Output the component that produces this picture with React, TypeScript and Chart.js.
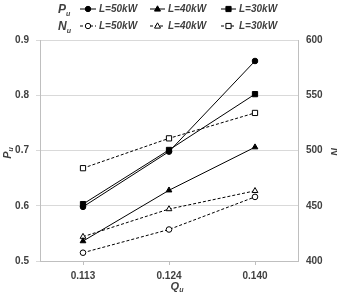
import React, { useEffect, useRef } from "react";
import { Chart, registerables } from "chart.js";
Chart.register(...registerables);

const categories = ["0.113", "0.124", "0.140"];
const puL50 = [0.598, 0.698, 0.862];
const puL40 = [0.536, 0.628, 0.706];
const puL30 = [0.603, 0.701, 0.802];
const nuL50 = [407.5, 428.5, 458];
const nuL40 = [422, 447, 463.5];
const nuL30 = [484, 511, 534];
const seriesLabels = ["L=50kW", "L=40kW", "L=30kW"];
const leftRange = [0.5, 0.9, 0.1];
const rightRange = [400, 600, 50];

const FONT = "'Liberation Sans', Arial, sans-serif";
const TXT = "#404040";

function drawSub(ctx: CanvasRenderingContext2D, main: string, sub: string, x: number, y: number, size: number, align: "left" | "center") {
  ctx.font = `italic bold ${size}px ${FONT}`;
  const w1 = ctx.measureText(main).width;
  ctx.font = `italic bold ${Math.round(size * 0.62)}px ${FONT}`;
  const w2 = ctx.measureText(sub).width;
  const start = align === "center" ? x - (w1 + w2) / 2 : x;
  ctx.textAlign = "left";
  ctx.textBaseline = "alphabetic";
  ctx.font = `italic bold ${size}px ${FONT}`;
  ctx.fillText(main, start, y);
  ctx.font = `italic bold ${Math.round(size * 0.62)}px ${FONT}`;
  ctx.fillText(sub, start + w1, y + size * 0.22);
}

function drawMarker(ctx: CanvasRenderingContext2D, style: string, x: number, y: number, filled: boolean) {
  ctx.beginPath();
  if (style === "circle") {
    ctx.arc(x, y, 2.7, 0, Math.PI * 2);
  } else if (style === "triangle") {
    ctx.moveTo(x, y - 3.2);
    ctx.lineTo(x + 3, y + 2.1);
    ctx.lineTo(x - 3, y + 2.1);
    ctx.closePath();
  } else {
    ctx.rect(x - 2.6, y - 2.6, 5.2, 5.2);
  }
  ctx.fillStyle = filled ? "#000" : "#fff";
  ctx.fill();
  ctx.lineWidth = 1;
  ctx.strokeStyle = "#000";
  ctx.stroke();
}

const overlay = {
  id: "overlay",
  afterDraw(chart: any) {
    const ctx: CanvasRenderingContext2D = chart.ctx;
    ctx.save();
    ctx.fillStyle = TXT;
    const rows = [9, 26];
    const rowLabels = ["P", "N"];
    const lineX = [[80, 96], [150, 165], [221, 236]];
    const textX = [99, 168, 239];
    const styles = ["circle", "triangle", "rect"];
    rows.forEach((ry, r) => {
      ctx.fillStyle = TXT;
      drawSub(ctx, rowLabels[r], "u", 58, ry + 4, 12, "left");
      for (let i = 0; i < 3; i++) {
        ctx.strokeStyle = "#000";
        ctx.lineWidth = 1;
        ctx.setLineDash(r === 0 ? [] : [3, 2]);
        ctx.beginPath();
        ctx.moveTo(lineX[i][0], ry);
        ctx.lineTo(lineX[i][1], ry);
        ctx.stroke();
        ctx.setLineDash([]);
        drawMarker(ctx, styles[i], (lineX[i][0] + lineX[i][1]) / 2, ry, r === 0);
        ctx.fillStyle = TXT;
        ctx.font = `italic bold 10px ${FONT}`;
        ctx.textAlign = "left";
        ctx.textBaseline = "middle";
        ctx.fillText(seriesLabels[i], textX[i], ry + 0.5);
      }
    });
    ctx.fillStyle = TXT;
    drawSub(ctx, "Q", "u", 177, 290, 11, "center");
    ctx.save();
    ctx.translate(11, 153);
    ctx.rotate(-Math.PI / 2);
    drawSub(ctx, "P", "u", 0, 0, 11, "center");
    ctx.restore();
    ctx.save();
    ctx.translate(339, 150);
    ctx.rotate(-Math.PI / 2);
    drawSub(ctx, "N", "u", 0, 0, 11, "center");
    ctx.restore();
    ctx.restore();
  },
};

function ds(label: string, data: number[], style: string, filled: boolean, axis: string) {
  return {
    label,
    data,
    yAxisID: axis,
    borderColor: "#000",
    borderWidth: 1,
    borderDash: filled ? [] : [3, 2],
    pointStyle: style,
    pointRadius: style === "rect" ? 3.7 : style === "triangle" ? 3.3 : 2.8,
    pointBorderWidth: 1,
    pointBorderColor: "#000",
    pointBackgroundColor: filled ? "#000" : "#fff",
    fill: false,
    tension: 0,
  };
}

export default function App() {
  const ref = useRef<HTMLCanvasElement>(null);
  useEffect(() => {
    const chart = new Chart(ref.current!, {
      type: "line",
      data: {
        labels: categories,
        datasets: [
          ds(seriesLabels[0], puL50, "circle", true, "y"),
          ds(seriesLabels[1], puL40, "triangle", true, "y"),
          ds(seriesLabels[2], puL30, "rect", true, "y"),
          ds(seriesLabels[0], nuL50, "circle", false, "y1"),
          ds(seriesLabels[1], nuL40, "triangle", false, "y1"),
          ds(seriesLabels[2], nuL30, "rect", false, "y1"),
        ] as any,
      },
      options: {
        responsive: false,
        animation: false,
        devicePixelRatio: 1,
        layout: { padding: { top: 40, left: 0, right: 0, bottom: 0 } },
        plugins: { legend: { display: false }, tooltip: { enabled: false } },
        scales: {
          x: {
            offset: true,
            grid: { offset: false, drawOnChartArea: false, drawTicks: true, tickLength: 4, color: "#bfbfbf" },
            border: { display: true, color: "#bfbfbf" },
            ticks: { color: TXT, font: { family: FONT, size: 10, weight: "bold" }, padding: 5, maxRotation: 0 },
            afterFit: (s: any) => { s.height = 32; },
          },
          y: {
            position: "left",
            min: leftRange[0],
            max: leftRange[1],
            ticks: { stepSize: leftRange[2], color: TXT, font: { family: FONT, size: 10, weight: "bold" }, padding: 7, callback: (v: any) => Number(v).toFixed(1) },
            grid: { color: "#d9d9d9", tickLength: 4, lineWidth: 1 },
            border: { display: true, color: "#bfbfbf" },
            afterFit: (s: any) => { s.width = 40; },
          },
          y1: {
            position: "right",
            min: rightRange[0],
            max: rightRange[1],
            ticks: { stepSize: rightRange[2], color: TXT, font: { family: FONT, size: 10, weight: "bold" }, padding: 8 },
            grid: { drawOnChartArea: false, drawTicks: false },
            border: { display: true, color: "#bfbfbf" },
            afterFit: (s: any) => { s.width = 39; },
          },
        },
      },
      plugins: [overlay],
    } as any);
    return () => chart.destroy();
  }, []);
  return (
    <div style={{ position: "fixed", left: 0, top: 0, width: 337, height: 293, background: "#fff" }}>
      <canvas ref={ref} width={337} height={293} style={{ width: 337, height: 293 }} />
    </div>
  );
}
